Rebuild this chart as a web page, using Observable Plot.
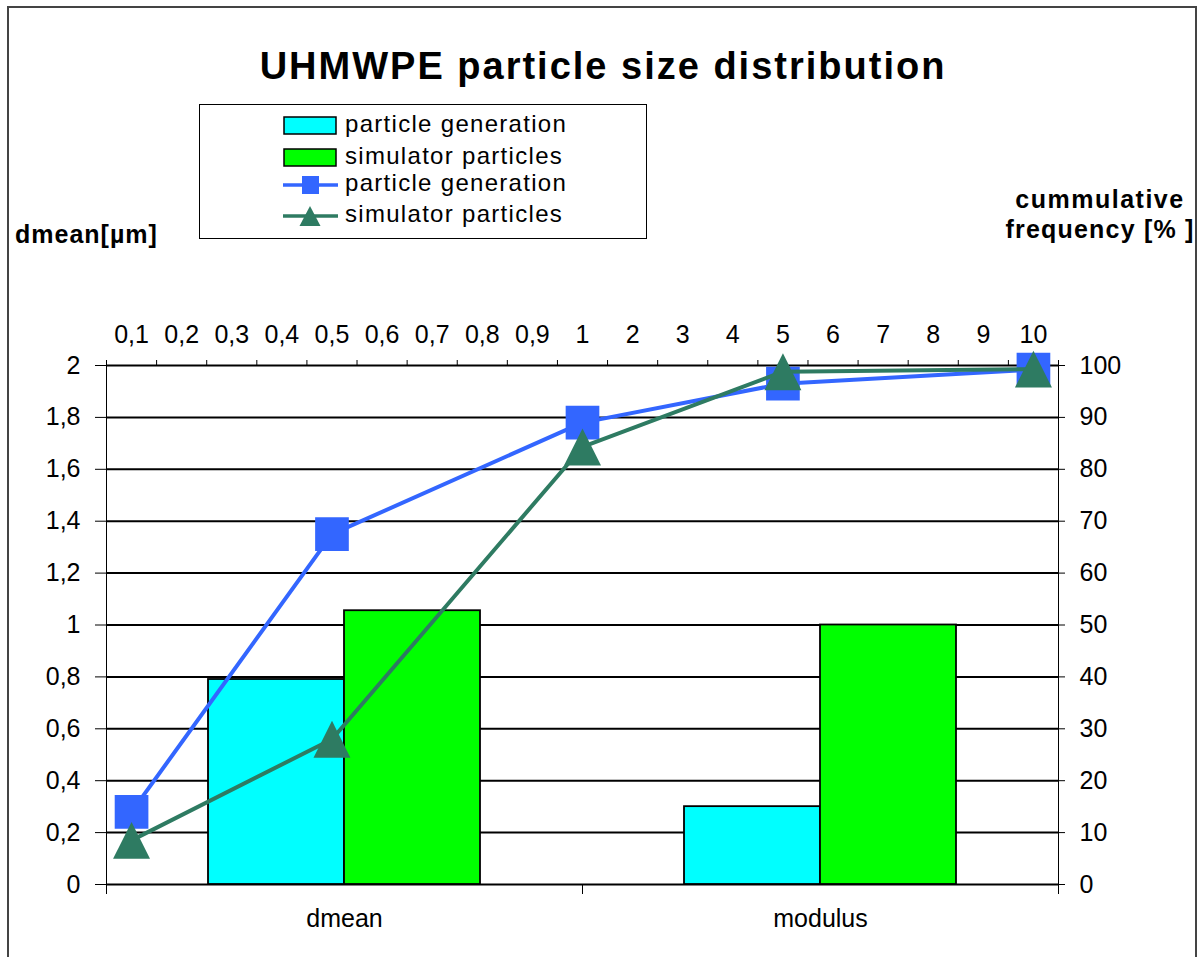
<!DOCTYPE html>
<html>
<head>
<meta charset="utf-8">
<script src="https://cdn.jsdelivr.net/npm/d3@7"></script>
<script src="https://cdn.jsdelivr.net/npm/@observablehq/plot@0.6"></script>
<style>
  html, body { margin: 0; padding: 0; background: #fff; }
  body { width: 1198px; height: 957px; overflow: hidden; font-family: "Liberation Sans", Arial, sans-serif; }
  #page { position: relative; width: 1198px; height: 957px; }
  .layer { position: absolute; left: 0; top: 0; }
  .txt { position: absolute; white-space: nowrap; line-height: 1; color: #000; }
  .layer [aria-label$="axis"] line, .layer [aria-label$="axis"] path { stroke-width: 2px; }
</style>
</head>
<body>
<div id="page">
  <div style="position:absolute;left:7px;top:6px;width:1190px;height:1000px;border:2px solid #444;box-sizing:border-box;"></div>
</div>
<script>
// ---------- data ----------
const categories = ["dmean", "modulus"];
const barSeries = ["particle generation", "simulator particles"];
const particleGenerationBars = [0.79, 0.30];
const simulatorParticlesBars = [1.055, 1.00];

const sizeLabels = ["0,1","0,2","0,3","0,4","0,5","0,6","0,7","0,8","0,9","1","2","3","4","5","6","7","8","9","10"];
const linePositions = ["0,1", "0,5", "1", "5", "10"];
const particleGenerationCumulative = [14, 67.5, 89, 96.5, 99.2];
const simulatorParticlesCumulative = [8.5, 28, 84.3, 98.8, 99.3];

const leftTicks = [0, 0.2, 0.4, 0.6, 0.8, 1, 1.2, 1.4, 1.6, 1.8, 2];
const rightTicks = [0, 10, 20, 30, 40, 50, 60, 70, 80, 90, 100];

const titleText = "UHMWPE particle size distribution";
const leftAxisTitle = "dmean[µm]";
const rightAxisTitle = ["cummulative", "frequency [% ]"];

// ---------- styles ----------
const W = 1198, H = 957;
const M = {marginLeft: 106, marginRight: 140, marginTop: 365, marginBottom: 73};
const FONT = "25px 'Liberation Sans', Arial, sans-serif";
const CYAN = "#00FFFF", GREEN = "#00FF00", BLUE = "#3366FF", SEA = "#2E7B62";
const svgStyle = {background: "transparent", font: FONT, color: "black", overflow: "visible"};

const bars = [];
categories.forEach((c, i) => {
  bars.push({category: c, series: barSeries[0], value: particleGenerationBars[i]});
  bars.push({category: c, series: barSeries[1], value: simulatorParticlesBars[i]});
});
const pgLine = linePositions.map((p, i) => ({pos: p, value: particleGenerationCumulative[i]}));
const spLine = linePositions.map((p, i) => ({pos: p, value: simulatorParticlesCumulative[i]}));

const triangleSymbol = {
  draw(ctx, size) {
    const r = Math.sqrt(size / Math.PI);
    const w = r * 1.2, h = r * 1.2;
    ctx.moveTo(0, -h); ctx.lineTo(w, h); ctx.lineTo(-w, h); ctx.closePath();
  }
};

const fmtComma = d => String(d).replace(".", ",");
const page = document.getElementById("page");

// Layer A: bars + left axis + grid
const svgA = Plot.plot({
  width: W, height: H, ...M,
  style: svgStyle,
  fx: {domain: categories, padding: 0, axis: null},
  x: {domain: barSeries, paddingInner: 0, paddingOuter: 0.75, axis: null},
  y: {domain: [0, 2], ticks: leftTicks, tickFormat: fmtComma, tickSize: 11, tickPadding: 15, line: true, label: null},
  color: {domain: barSeries, range: [CYAN, GREEN]},
  marks: [
    Plot.ruleY(leftTicks, {stroke: "black", strokeWidth: 2}),
    Plot.barY(bars, {fx: "category", x: "series", y: "value", fill: "series", stroke: "black", strokeWidth: 1.8})
  ]
});
svgA.classList.add("layer");
page.appendChild(svgA);

// Layer C: bottom category axis
const svgC = Plot.plot({
  width: W, height: H, ...M,
  style: svgStyle,
  x: {domain: [0, categories.length], ticks: d3.range(categories.length + 1), tickFormat: () => "", tickSize: 10, axis: "bottom", label: null},
  marks: [
    Plot.text(categories, {x: (d, i) => i + 0.5, frameAnchor: "bottom", dy: 42, fontSize: 25, letterSpacing: "1px", fill: "black"})
  ]
});
svgC.classList.add("layer");
page.appendChild(svgC);

// Layer B: cumulative lines, top & right axes
const posX = d => sizeLabels.indexOf(d.pos) + 0.5;
const svgB = Plot.plot({
  width: W, height: H, ...M,
  style: svgStyle,
  x: {domain: [0, sizeLabels.length], ticks: d3.range(sizeLabels.length + 1), tickFormat: () => "", tickSize: 6, axis: "top", line: true, label: null},
  y: {domain: [0, 100], ticks: rightTicks, axis: "right", tickSize: 6, tickPadding: 15, line: true, label: null},
  marks: [
    Plot.text(sizeLabels, {x: (d, i) => i + 0.5, frameAnchor: "top", dy: -40, fontSize: 25, fill: "black"}),
    Plot.line(pgLine, {x: posX, y: "value", stroke: BLUE, strokeWidth: 4}),
    Plot.dot(pgLine, {x: posX, y: "value", symbol: "square", r: 19, fill: BLUE, stroke: "none"}),
    Plot.line(spLine, {x: posX, y: "value", stroke: SEA, strokeWidth: 4}),
    Plot.dot(spLine, {x: posX, y: "value", symbol: triangleSymbol, r: 15.4, fill: SEA, stroke: "none"})
  ]
});
svgB.classList.add("layer");
page.appendChild(svgB);

// ---------- texts ----------
function addText(text, css) {
  const d = document.createElement("div");
  d.className = "txt";
  d.textContent = text;
  Object.assign(d.style, css);
  page.appendChild(d);
  return d;
}
addText(titleText, {left: "603px", top: "47px", transform: "translateX(-50%)", fontSize: "38px", fontWeight: "bold", letterSpacing: "2px"});
addText(leftAxisTitle, {left: "15px", top: "222px", fontSize: "25px", fontWeight: "bold", letterSpacing: "1px"});
addText(rightAxisTitle[0], {left: "1100px", top: "187px", transform: "translateX(-50%)", fontSize: "25px", fontWeight: "bold", letterSpacing: "1.5px"});
addText(rightAxisTitle[1], {left: "1100px", top: "217px", transform: "translateX(-50%)", fontSize: "25px", fontWeight: "bold", letterSpacing: "1.2px"});

// ---------- legend ----------
const legendBox = document.createElement("div");
Object.assign(legendBox.style, {position: "absolute", left: "199px", top: "104px", width: "448px", height: "135px", border: "1.5px solid #000", boxSizing: "border-box", background: "#fff"});
page.appendChild(legendBox);

const legendItems = [
  {label: barSeries[0], kind: "bar", color: CYAN},
  {label: barSeries[1], kind: "bar", color: GREEN},
  {label: barSeries[0], kind: "square", color: BLUE},
  {label: barSeries[1], kind: "triangle", color: SEA}
];
const ns = "http://www.w3.org/2000/svg";
const sw = document.createElementNS(ns, "svg");
sw.setAttribute("width", W); sw.setAttribute("height", 260);
Object.assign(sw.style, {position: "absolute", left: "0px", top: "0px", overflow: "visible"});
page.appendChild(sw);
function el(name, attrs) {
  const e = document.createElementNS(ns, name);
  for (const k in attrs) e.setAttribute(k, attrs[k]);
  sw.appendChild(e);
  return e;
}
const rowCenters = [125.5, 157.5, 185, 216];
legendItems.forEach((it, i) => {
  const cy = rowCenters[i];
  if (it.kind === "bar") {
    el("rect", {x: 284, y: cy - 8.5, width: 52, height: 17, fill: it.color, stroke: "#000", "stroke-width": 1.5});
  } else {
    el("line", {x1: 283, x2: 338, y1: cy, y2: cy, stroke: it.color, "stroke-width": 3.5});
    if (it.kind === "square") el("rect", {x: 302, y: cy - 9, width: 17, height: 18, fill: it.color});
    else el("path", {d: `M310,${cy - 10}L320.5,${cy + 10}L299.5,${cy + 10}Z`, fill: it.color});
  }
  addText(it.label, {left: "345px", top: (cy - 14) + "px", fontSize: "24px", letterSpacing: "1.3px"});
});
</script>
</body>
</html>
